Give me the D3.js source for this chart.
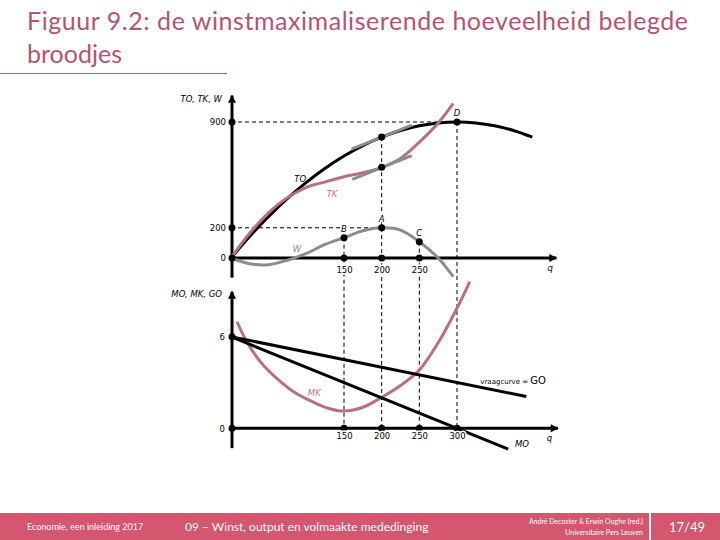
<!DOCTYPE html>
<html>
<head>
<meta charset="utf-8">
<script src="https://cdn.jsdelivr.net/npm/d3@7"></script>
<style>
  body { margin: 0; background: #fff; }
  .lbl { font-family: "DejaVu Sans", sans-serif; font-size: 8.5px; }
  .it { font-style: italic; }
  .halo { paint-order: stroke; stroke: #fff; stroke-width: 3px; }
</style>
</head>
<body>
<div id="chart"></div>
<script>
// Figuur 9.2 - winstmaximaliserende hoeveelheid

// top panel: totale opbrengst, totale kosten, winst
var qTO = [0, 25, 50, 75, 100, 125, 150, 175, 200, 225, 250, 275, 300, 325, 350, 375, 400];
var valTO = [0, 144, 275, 394, 500, 594, 675, 744, 800, 844, 875, 894, 900, 894, 875, 844, 800];

var qTK = [0, 25, 50, 75, 100, 125, 150, 175, 200, 225, 250, 275, 295];
var valTK = [0, 165, 300, 400, 468, 504, 538, 564, 600, 659, 767, 894, 1024];

var qW = [0, 25, 50, 75, 100, 125, 150, 175, 200, 225, 250, 275, 295];
var valW = [0, -38, -44, -15, 30, 90, 134, 180, 200, 185, 108, 0, -124];

// raaklijnen bij q = 200 (helling 2)
var tangentTO = [[160, 720], [240, 880]];
var tangentTK = [[161, 520], [240, 678]];

// bottom panel: marginale kosten, marginale opbrengst, gemiddelde opbrengst
var qMK = [8, 21, 40, 60, 83, 110, 130, 150, 175, 200, 225, 250, 275, 300, 317];
var valMK = [6.98, 5.67, 4.3, 3.3, 2.4, 1.7, 1.3, 1.13, 1.38, 2.03, 2.8, 3.82, 5.6, 7.86, 9.6];
var qGO = [0, 392];
var valGO = [6, 2.08];
var qMO = [0, 368];
var valMO = [6, -1.36];

var topTicksY = [0, 200, 900];
var topTicksX = [150, 200, 250];
var botTicksY = [0, 6];
var botTicksX = [150, 200, 250, 300];

// named points
var pointsTop = [
  {name: "B", q: 150, v: 134},
  {name: "A", q: 200, v: 200},
  {name: "C", q: 250, v: 108},
  {name: "D", q: 300, v: 900},
  {name: "", q: 200, v: 800},
  {name: "", q: 200, v: 600}
];

var svgWidth = 720;
var svgHeight = 540;

var pink = "#b8707f";
var grey = "#8c8c8c";
var titleColor = "#b5546f";
var band = "#d5566f";

var svg = d3.select("#chart")
  .append("svg")
  .attr("width", svgWidth)
  .attr("height", svgHeight);

var defs = svg.append("defs");
defs.append("marker")
  .attr("id", "arrow")
  .attr("viewBox", "0 0 10 10")
  .attr("refX", 9).attr("refY", 5)
  .attr("markerWidth", 10).attr("markerHeight", 8)
  .attr("markerUnits", "userSpaceOnUse")
  .attr("orient", "auto")
  .append("path")
  .attr("d", "M0,0 L10,5 L0,10 Z")
  .attr("fill", "#000");

// title
var title = svg.append("g").attr("font-family", "Lato, sans-serif").attr("fill", titleColor).attr("font-size", 25);
title.append("text").attr("x", 27).attr("y", 30).attr("textLength", 661)
  .text("Figuur 9.2: de winstmaximaliserende hoeveelheid belegde");
title.append("text").attr("x", 27).attr("y", 63).text("broodjes");
svg.append("line").attr("x1", 0).attr("x2", 227).attr("y1", 73.5).attr("y2", 73.5)
  .attr("stroke", titleColor).attr("stroke-width", 1);

// scales
var x = d3.scaleLinear().domain([0, 300]).range([231, 457]);
var yTop = d3.scaleLinear().domain([0, 900]).range([258, 122]);
var yBot = d3.scaleLinear().domain([0, 6]).range([428.3, 336.7]);

var chart = svg.append("g");

// dashed guides
var dash = chart.append("g").attr("stroke", "#000").attr("stroke-width", 1).attr("stroke-dasharray", "4,3");
dash.append("line").attr("x1", x(0)).attr("x2", x(300)).attr("y1", yTop(900)).attr("y2", yTop(900));
dash.append("line").attr("x1", x(0)).attr("x2", x(200)).attr("y1", yTop(200)).attr("y2", yTop(200));
[[150, 134], [200, 800], [250, 108], [300, 900]].forEach(function(d) {
  dash.append("line").attr("x1", x(d[0])).attr("x2", x(d[0]))
    .attr("y1", yTop(d[1])).attr("y2", yBot(0));
});

// axis lines
var ax = chart.append("g").attr("stroke", "#000").attr("stroke-width", 3);
ax.append("line").attr("x1", x(0) + 1).attr("x2", x(0) + 1).attr("y1", yTop(-130)).attr("y2", yTop(1075)).attr("marker-end", "url(#arrow)");
ax.append("line").attr("x1", x(0)).attr("x2", x(432)).attr("y1", yTop(0)).attr("y2", yTop(0)).attr("marker-end", "url(#arrow)");
ax.append("line").attr("x1", x(0) + 1).attr("x2", x(0) + 1).attr("y1", yBot(-1.3)).attr("y2", yBot(8.95)).attr("marker-end", "url(#arrow)");
ax.append("line").attr("x1", x(0)).attr("x2", x(434)).attr("y1", yBot(0)).attr("y2", yBot(0)).attr("marker-end", "url(#arrow)");

// curves
var line = d3.line().curve(d3.curveCatmullRom.alpha(0.5));
function pts(qs, vs, ys) { return qs.map(function(q, i) { return [x(q), ys(vs[i])]; }); }

chart.append("path").attr("d", line(pts(qW, valW, yTop)))
  .attr("fill", "none").attr("stroke", grey).attr("stroke-width", 3);
chart.append("path").attr("d", line(pts(qTO, valTO, yTop)))
  .attr("fill", "none").attr("stroke", "#000").attr("stroke-width", 3);
chart.append("path").attr("d", line(pts(qTK, valTK, yTop)))
  .attr("fill", "none").attr("stroke", pink).attr("stroke-width", 3);
[tangentTO, tangentTK].forEach(function(t) {
  chart.append("path").attr("d", d3.line()(t.map(function(d) { return [x(d[0]), yTop(d[1])]; })))
    .attr("fill", "none").attr("stroke", grey).attr("stroke-width", 3);
});

chart.append("path").attr("d", line(pts(qMK, valMK, yBot)))
  .attr("fill", "none").attr("stroke", pink).attr("stroke-width", 3);
chart.append("path").attr("d", d3.line()(pts(qGO, valGO, yBot)))
  .attr("fill", "none").attr("stroke", "#000").attr("stroke-width", 3);
chart.append("path").attr("d", d3.line()(pts(qMO, valMO, yBot)))
  .attr("fill", "none").attr("stroke", "#000").attr("stroke-width", 3);

// dots
var dots = chart.append("g").attr("fill", "#000");
topTicksY.forEach(function(v) { dots.append("circle").attr("cx", x(0) + 1).attr("cy", yTop(v)).attr("r", 3.5); });
topTicksX.forEach(function(q) { dots.append("circle").attr("cx", x(q)).attr("cy", yTop(0)).attr("r", 3.5); });
pointsTop.forEach(function(p) { dots.append("circle").attr("cx", x(p.q)).attr("cy", yTop(p.v)).attr("r", 3.5); });
botTicksY.forEach(function(v) { dots.append("circle").attr("cx", x(0) + 1).attr("cy", yBot(v)).attr("r", 3.5); });
botTicksX.forEach(function(q) { dots.append("circle").attr("cx", x(q)).attr("cy", yBot(0)).attr("r", 3.5); });

// tick labels with d3 axes
function styleAxis(g) {
  g.select(".domain").remove();
  g.selectAll("text").attr("class", "lbl halo").attr("font-size", null).attr("font-family", null).attr("fill", "#000");
}
chart.append("g").attr("transform", "translate(0," + yTop(0) + ")")
  .call(d3.axisBottom(x).tickValues(topTicksX).tickSize(0).tickPadding(9)).call(styleAxis);
chart.append("g").attr("transform", "translate(" + (x(0) - 5) + ",0)")
  .call(d3.axisLeft(yTop).tickValues(topTicksY).tickSize(0).tickPadding(0)).call(styleAxis);
chart.append("g").attr("transform", "translate(0," + yBot(0) + ")")
  .call(d3.axisBottom(x).tickValues(botTicksX).tickSize(0).tickPadding(5)).call(styleAxis);
chart.append("g").attr("transform", "translate(" + (x(0) - 6) + ",0)")
  .call(d3.axisLeft(yBot).tickValues(botTicksY).tickFormat(d3.format("d")).tickSize(0).tickPadding(0)).call(styleAxis);

// point names
pointsTop.filter(function(p) { return p.name; }).forEach(function(p) {
  chart.append("text").attr("class", "lbl it halo").attr("fill", "#000")
    .attr("x", x(p.q)).attr("y", yTop(p.v) - 6)
    .attr("text-anchor", "middle").text(p.name);
});

// axis and curve names
function lab(px, py, txt, color, anchor) {
  return chart.append("text").attr("class", "lbl it")
    .attr("x", px).attr("y", py)
    .attr("text-anchor", anchor || "start")
    .attr("fill", color || "#000").text(txt);
}
lab(x(0) - 9, yTop(1030), "TO, TK, W", "#000", "end");
lab(x(84), yTop(505), "TO");
lab(x(127), yTop(405), "TK", pink);
lab(x(82), yTop(40), "W", grey);
lab(x(420), yTop(0) + 13, "q");
lab(x(0) - 9, yBot(8.6), "MO, MK, GO", "#000", "end");
lab(x(102), yBot(2.1), "MK", "#a6808a");
lab(x(377), yBot(0) + 19, "MO");
lab(x(419), yBot(0) + 13, "q");

var vr = chart.append("text").attr("class", "lbl").attr("fill", "#000")
  .attr("x", x(331)).attr("y", yBot(2.88));
vr.append("tspan").attr("font-size", 7).text("vraagcurve = ");
vr.append("tspan").attr("font-size", 10).text("GO");

// footer band
var foot = svg.append("g").attr("font-family", "Lato, sans-serif").attr("fill", "#fff");
foot.append("rect").attr("x", 0).attr("y", 513).attr("width", svgWidth).attr("height", 27).attr("fill", band);
foot.append("line").attr("x1", 650).attr("x2", 650).attr("y1", 513).attr("y2", 540)
  .attr("stroke", "#fff").attr("stroke-width", 2);
foot.append("text").attr("x", 27).attr("y", 530).attr("font-size", 9).text("Economie, een inleiding 2017");
foot.append("text").attr("x", 185).attr("y", 531).attr("font-size", 12).text("09 – Winst, output en volmaakte mededinging");
foot.append("text").attr("x", 643).attr("y", 524).attr("font-size", 7).attr("text-anchor", "end").text("André Decoster & Erwin Ooghe (red.)");
foot.append("text").attr("x", 643).attr("y", 535).attr("font-size", 7).attr("text-anchor", "end").text("Universitaire Pers Leuven");
foot.append("text").attr("x", 687).attr("y", 532).attr("font-size", 13).attr("text-anchor", "middle").text("17/49");
</script>
</body>
</html>
